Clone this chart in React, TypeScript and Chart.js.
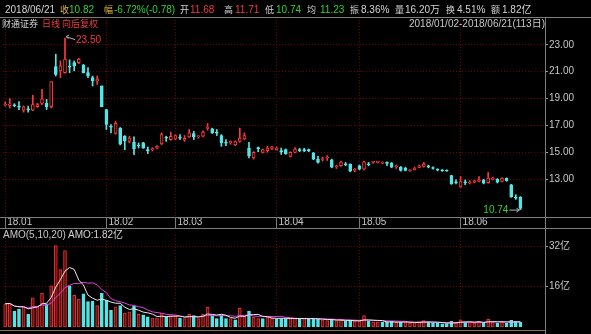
import React, { useEffect, useRef } from 'react';
import { Chart, registerables } from 'chart.js';

Chart.register(...registerables);

// ---------- data ----------
const monthLabels = ['18.01', '18.02', '18.03', '18.04', '18.05', '18.06'];
const monthStarts = [0, 22, 37, 59, 77, 99];
const priceTicks = [13, 15, 17, 19, 21, 23];
const amoTicks = [16, 32];

const opens = [
  18.52, 18.5, 18.52, 18.42, 18.14, 18.22, 18.14, 18.39, 18.64, 18.64,
  18.39, 21.38, 21.06, 20.93, 21.4, 21.68, 21.68, 21.48, 20.93, 20.56,
  20.31, 19.94, 18.19, 16.92, 16.4, 16.78, 16.2, 15.82, 15.77, 15.52,
  15.7, 15.18, 15.2, 15.32, 15.62, 16.1, 15.95, 16.0, 16.1, 15.9,
  16.15, 16.4, 16.15, 16.2, 16.78, 16.75, 16.48, 16.25, 15.72, 15.7,
  15.55, 15.82, 16.0, 15.32, 14.58, 15.32, 15.0, 15.12, 15.3, 15.2,
  15.1, 15.2, 14.7, 15.0, 15.18, 15.18, 15.2, 14.95, 14.5, 14.47,
  14.58, 14.45, 13.93, 14.0, 14.13, 14.1, 13.65, 14.0, 13.75, 14.13,
  14.25, 14.25, 14.2, 14.22, 14.2, 13.93, 13.9, 13.82, 13.63, 13.72,
  13.88, 13.95, 14.0, 13.85, 13.72, 13.67, 13.65, 13.28, 12.78, 12.42,
  12.78, 12.72, 12.78, 12.83, 12.96, 12.75, 12.98, 13.0, 12.83, 13.08,
  12.58, 11.65, 11.68,
];
const highs = [
  18.75, 19.0, 18.62, 18.78, 18.45, 18.44, 19.24, 18.65, 19.69, 18.94,
  20.26, 22.3, 21.8, 23.5, 21.88, 21.8, 22.0, 21.55, 21.3, 20.68,
  20.68, 19.94, 18.2, 17.07, 17.3, 16.85, 16.25, 16.2, 16.15, 15.7,
  15.75, 15.4, 15.35, 15.5, 16.45, 16.2, 16.5, 16.3, 16.32, 16.25,
  16.7, 16.57, 16.25, 16.6, 17.15, 16.8, 16.7, 16.32, 15.95, 15.85,
  15.85, 16.8, 16.45, 15.75, 15.05, 15.4, 15.25, 15.45, 15.45, 15.4,
  15.32, 15.25, 15.05, 15.35, 15.3, 15.3, 15.25, 15.0, 14.7, 14.65,
  14.75, 14.5, 14.05, 14.35, 14.25, 14.15, 13.8, 14.05, 14.35, 14.25,
  14.32, 14.32, 14.3, 14.3, 14.25, 14.07, 13.95, 13.9, 13.72, 13.9,
  14.05, 14.25, 14.05, 13.92, 13.78, 13.72, 13.7, 13.3, 12.95, 13.2,
  12.95, 12.9, 12.92, 13.2, 13.0, 13.5, 13.15, 13.05, 13.12, 13.1,
  12.62, 11.85, 11.71,
];
const lows = [
  18.45, 18.3, 18.4, 18.18, 17.99, 17.99, 18.1, 18.35, 18.55, 18.19,
  18.3, 20.68, 20.56, 20.9, 20.93, 21.06, 21.6, 20.9, 20.56, 19.94,
  20.06, 18.39, 16.7, 16.45, 16.35, 15.55, 15.2, 15.7, 14.82, 15.32,
  15.3, 14.9, 15.1, 15.25, 15.57, 15.82, 15.9, 15.95, 15.95, 15.82,
  16.1, 15.95, 16.05, 16.15, 16.65, 16.4, 16.25, 15.45, 15.5, 15.6,
  15.5, 15.75, 15.95, 14.58, 14.5, 15.05, 14.95, 15.0, 15.2, 15.15,
  14.85, 14.85, 14.65, 14.95, 15.05, 15.05, 15.05, 14.45, 14.2, 14.35,
  14.4, 13.85, 13.8, 13.95, 14.0, 13.55, 13.55, 13.7, 13.7, 14.0,
  14.18, 14.2, 14.15, 14.0, 13.85, 13.8, 13.6, 13.62, 13.58, 13.68,
  13.85, 13.9, 13.85, 13.75, 13.62, 13.58, 13.58, 12.62, 12.65, 12.4,
  12.6, 12.65, 12.72, 12.8, 12.65, 12.7, 12.95, 12.72, 12.8, 12.85,
  11.65, 11.5, 10.74,
];
const closes = [
  18.58, 18.6, 18.47, 18.36, 18.39, 18.17, 18.56, 18.56, 18.99, 18.39,
  20.26, 20.8, 21.43, 21.93, 21.34, 21.43, 21.93, 20.93, 20.7, 20.31,
  20.43, 18.39, 17.07, 16.87, 17.15, 15.6, 15.87, 16.07, 15.25, 15.47,
  15.32, 15.13, 15.27, 15.45, 16.32, 16.05, 16.2, 16.25, 16.05, 16.05,
  16.45, 16.15, 16.22, 16.5, 16.85, 16.45, 16.43, 15.7, 15.68, 15.82,
  15.8, 16.07, 16.25, 14.75, 15.0, 15.28, 15.2, 15.32, 15.35, 15.32,
  15.05, 14.9, 15.0, 15.25, 15.13, 15.13, 15.1, 14.5, 14.25, 14.52,
  14.63, 13.9, 13.97, 14.28, 14.08, 13.6, 13.75, 13.75, 14.3, 14.08,
  14.28, 14.28, 14.25, 14.18, 13.9, 13.97, 13.65, 13.65, 13.68, 13.82,
  14.0, 14.13, 13.9, 13.8, 13.68, 13.63, 13.61, 12.66, 12.74, 12.83,
  12.74, 12.78, 12.88, 12.95, 12.71, 13.08, 13.1, 12.78, 13.08, 12.9,
  11.7, 11.6, 10.82,
];
// turnover amount, 亿
const amounts = [
  9.2, 9.4, 6.3, 7.1, 8.0, 5.1, 11.5, 8.0, 13.3, 9.2,
  16.3, 32.2, 22.7, 30.2, 16.3, 12.5, 11.0, 13.1, 10.1, 10.3,
  8.5, 13.3, 10.6, 6.6, 8.0, 8.5, 5.5, 6.0, 8.2, 5.0,
  4.8, 4.0, 3.5, 3.5, 5.5, 4.0, 4.5, 4.2, 3.5, 3.3,
  5.0, 4.5, 3.3, 5.1, 7.8, 4.2, 3.3, 4.7, 3.3, 3.3,
  2.8, 7.4, 4.2, 6.3, 3.8, 3.3, 3.3, 3.8, 3.5, 3.3,
  3.3, 3.3, 3.3, 3.5, 3.3, 3.3, 3.0, 3.5, 3.0, 2.8,
  2.5, 3.0, 2.5, 2.8, 2.2, 2.6, 2.3, 2.3, 4.5, 2.3,
  2.0, 2.0, 1.8, 2.0, 2.2, 1.8, 1.9, 2.0, 1.6, 1.7,
  2.0, 2.5, 2.0, 1.5, 1.5, 1.3, 1.4, 2.2, 1.7, 2.8,
  1.9, 1.8, 1.6, 2.2, 1.6, 3.0, 2.0, 1.6, 2.0, 1.6,
  2.6, 2.2, 1.82,
];
// moving-average lines drawn on the AMO pane (white, magenta)
const amoLinePeriods = [5, 10];

// ---------- style ----------
const RED = '#ff3838';
const CYAN = '#54e6e6';
const GREEN = '#2ed42e';
const GRID = '#7a0000';
const FRAME = '#7c7c7c';
const AXIS_TEXT = '#c8c8c8';
const FONT_FAMILY = '"Liberation Sans", "Noto Sans CJK SC", sans-serif';
const X_MIN = -0.478;
const X_MAX = 117.35;

const candleUp = (i: number) => closes[i] >= opens[i];
const amountUp = (i: number) => (i === 0 ? candleUp(0) : closes[i] >= closes[i - 1]);

function movingAverage(values: number[], n: number) {
  return values.map((_, i) => {
    const w = values.slice(Math.max(0, i - n + 1), i + 1);
    return w.reduce((a, b) => a + b, 0) / w.length;
  });
}

const extremaPlugin = {
  id: 'extrema',
  afterDatasetsDraw(chart: any) {
    const { ctx, scales } = chart;
    const x = scales.x;
    const y = scales.y;
    let hi = 0;
    let lo = 0;
    highs.forEach((h, i) => { if (h > highs[hi]) hi = i; });
    lows.forEach((l, i) => { if (l < lows[lo]) lo = i; });
    ctx.save();
    ctx.font = `10px ${FONT_FAMILY}`;
    ctx.textBaseline = 'middle';
    ctx.strokeStyle = '#b4b4b4';
    ctx.lineWidth = 1;
    // highest
    const hx = x.getPixelForValue(hi);
    const hy = y.getPixelForValue(highs[hi]);
    ctx.beginPath();
    ctx.moveTo(hx + 1, hy - 1.5);
    ctx.lineTo(hx + 10, hy + 1.5);
    ctx.moveTo(hx + 1, hy - 1.5);
    ctx.lineTo(hx + 4, hy - 3);
    ctx.moveTo(hx + 1, hy - 1.5);
    ctx.lineTo(hx + 3.5, hy + 0.5);
    ctx.stroke();
    ctx.fillStyle = RED;
    ctx.textAlign = 'left';
    ctx.fillText(highs[hi].toFixed(2), hx + 11, hy + 2.5);
    // lowest
    const lx = x.getPixelForValue(lo);
    const ly = y.getPixelForValue(lows[lo]);
    ctx.beginPath();
    ctx.moveTo(lx - 1, ly + 0.5);
    ctx.lineTo(lx - 11, ly + 0.5);
    ctx.moveTo(lx - 1, ly + 0.5);
    ctx.lineTo(lx - 4, ly - 1.5);
    ctx.moveTo(lx - 1, ly + 0.5);
    ctx.lineTo(lx - 4, ly + 2.5);
    ctx.stroke();
    ctx.fillStyle = GREEN;
    ctx.textAlign = 'right';
    ctx.fillText(lows[lo].toFixed(2), lx - 12, ly + 0.5);
    ctx.restore();
  },
};

const axisFont = { size: 10, family: FONT_FAMILY };

export default function App() {
  const priceRef = useRef<HTMLCanvasElement>(null);
  const amoRef = useRef<HTMLCanvasElement>(null);

  useEffect(() => {
    document.body.style.margin = '0';
    document.body.style.background = '#000';
    const idx = opens.map((_, i) => i);

    const xScale = (showLabels: boolean) => ({
      type: 'linear',
      position: 'bottom',
      min: X_MIN,
      max: X_MAX,
      bounds: 'data',
      offset: false,
      afterBuildTicks: (s: any) => { s.ticks = monthStarts.map((v) => ({ value: v })); },
      afterFit: (s: any) => { s.height = showLabels ? 11 : 0; },
      grid: {
        offset: false,
        color: GRID,
        lineWidth: 1,
        drawTicks: showLabels,
        tickLength: 11,
        tickColor: FRAME,
        tickWidth: 1,
      },
      border: { display: false, dash: [1, 2] },
      ticks: showLabels
        ? {
            color: AXIS_TEXT,
            font: axisFont,
            align: 'start',
            padding: -12,
            labelOffset: 2,
            maxRotation: 0,
            autoSkip: false,
            callback: (v: any) => monthLabels[monthStarts.indexOf(Number(v))] ?? '',
          }
        : { display: false },
    });

    const price = new Chart(priceRef.current as HTMLCanvasElement, {
      type: 'bar',
      data: {
        datasets: [
          {
            label: 'body',
            data: idx.map((i) => ({ x: i, y: [opens[i], closes[i]] })) as any,
            backgroundColor: (c: any) => (candleUp(c.dataIndex) ? '#000000' : CYAN),
            borderColor: (c: any) => (candleUp(c.dataIndex) ? RED : CYAN),
            borderWidth: 1,
            borderSkipped: false,
            barThickness: 3,
            minBarLength: 1,
            grouped: false,
            order: 0,
          } as any,
          {
            label: 'wick',
            data: idx.map((i) => ({ x: i, y: [lows[i], highs[i]] })) as any,
            backgroundColor: (c: any) => (candleUp(c.dataIndex) ? RED : CYAN),
            borderWidth: 0,
            barThickness: 1,
            grouped: false,
            order: 1,
          } as any,
        ],
      },
      options: {
        animation: false,
        responsive: true,
        maintainAspectRatio: false,
        events: [],
        layout: { padding: { top: 17, left: 3, right: 0, bottom: 0 } },
        plugins: { legend: { display: false }, tooltip: { enabled: false } },
        scales: {
          x: xScale(true) as any,
          y: {
            type: 'linear',
            position: 'right',
            min: 10.19,
            max: 25.07,
            bounds: 'data',
            afterBuildTicks: (s: any) => { s.ticks = priceTicks.map((v) => ({ value: v })); },
            afterFit: (s: any) => { s.width = 46; },
            grid: { color: GRID, lineWidth: 1, drawTicks: true, tickLength: 3, tickColor: '#a0a0a0' },
            border: { display: false, dash: [1, 2] },
            ticks: { color: AXIS_TEXT, font: axisFont, padding: 1, callback: (v: any) => Number(v).toFixed(2) },
          } as any,
        },
      },
      plugins: [extremaPlugin],
    });

    const maColors = ['#e8e8e8', '#e040e0'];
    const amo = new Chart(amoRef.current as HTMLCanvasElement, {
      type: 'bar',
      data: {
        datasets: [
          ...amoLinePeriods.map((p, k) => ({
            type: 'line',
            label: `MA${p}`,
            data: movingAverage(amounts, p).map((v, i) => ({ x: i, y: v })),
            borderColor: maColors[k],
            borderWidth: 1,
            pointRadius: 0,
            tension: 0,
            order: 0,
          })),
          {
            type: 'bar',
            label: 'AMO',
            data: idx.map((i) => ({ x: i, y: amounts[i] })),
            backgroundColor: (c: any) => (amountUp(c.dataIndex) ? '#6a0c0c' : CYAN),
            borderColor: (c: any) => (amountUp(c.dataIndex) ? '#e03030' : CYAN),
            borderWidth: 1,
            borderSkipped: false,
            barThickness: 3,
            grouped: false,
            order: 1,
          },
        ] as any,
      },
      options: {
        animation: false,
        responsive: true,
        maintainAspectRatio: false,
        events: [],
        layout: { padding: { top: 0, left: 3, right: 0, bottom: 3 } },
        plugins: { legend: { display: false }, tooltip: { enabled: false } },
        scales: {
          x: xScale(false) as any,
          y: {
            type: 'linear',
            position: 'right',
            min: 0,
            max: 36.4,
            bounds: 'data',
            afterBuildTicks: (s: any) => { s.ticks = amoTicks.map((v) => ({ value: v })); },
            afterFit: (s: any) => { s.width = 46; },
            grid: { color: GRID, lineWidth: 1, drawTicks: true, tickLength: 3, tickColor: '#a0a0a0' },
            border: { display: false, dash: [1, 2] },
            ticks: { color: AXIS_TEXT, font: axisFont, padding: 1, callback: (v: any) => `${v}亿` },
          } as any,
        },
      },
    });

    return () => {
      price.destroy();
      amo.destroy();
    };
  }, []);

  const T = (text: string, left: number, cy: number, color: string, size = 10) => (
    <span
      key={`${text}-${left}-${cy}`}
      style={{ position: 'absolute', left, top: cy - 6, lineHeight: '12px', fontSize: size, color, whiteSpace: 'nowrap' }}
    >
      {text}
    </span>
  );
  const line = (left: number, top: number, width: number, height: number, color: string, key: string) => (
    <div key={key} style={{ position: 'absolute', left, top, width, height, background: color }} />
  );

  const W = '#d4d4d4';
  const Y = '#e0b830';
  const R = '#f03c3c';
  const C = 9; // CJK glyph size

  return (
    <div
      style={{
        position: 'relative',
        width: 591,
        height: 334,
        background: '#000',
        overflow: 'hidden',
        fontFamily: FONT_FAMILY,
        fontSize: 10,
      }}
    >
      <div style={{ position: 'absolute', left: 0, top: 0, width: 591, height: 228 }}>
        <canvas ref={priceRef} />
      </div>
      <div style={{ position: 'absolute', left: 0, top: 228, width: 591, height: 106 }}>
        <canvas ref={amoRef} />
      </div>

      {line(0, 17, 591, 1, FRAME, 'l1')}
      {line(0, 217, 591, 1, FRAME, 'l2')}
      {line(0, 228, 591, 1, FRAME, 'l3')}
      {line(545, 17, 1, 317, FRAME, 'l4')}
      {line(0, 330, 545, 1, '#8c7444', 'l5')}

      {T('2018/06/21', 5, 10, W)}
      {T('收', 60, 10, Y, C)}
      {T('10.82', 69, 10, GREEN)}
      {T('幅', 104, 10, Y, C)}
      {T('-6.72%(-0.78)', 114, 10, GREEN)}
      {T('开', 180, 10, W, C)}
      {T('11.68', 190, 10, R)}
      {T('高', 224, 10, W, C)}
      {T('11.71', 235, 10, R)}
      {T('低', 265, 10, W, C)}
      {T('10.74', 276, 10, GREEN)}
      {T('均', 307, 10, W, C)}
      {T('11.23', 320, 10, GREEN)}
      {T('振', 350, 10, W, C)}
      {T('8.36%', 361, 10, W)}
      {T('量', 395, 10, W, C)}
      {T('16.20万', 405, 10, W)}
      {T('换', 446, 10, W, C)}
      {T('4.51%', 457, 10, W)}
      {T('额', 491, 10, W, C)}
      {T('1.82亿', 502, 10, W)}

      {T('财通证券', 2, 24, W, C)}
      {T('日线', 42, 24, R, C)}
      {T('向后复权', 62, 24, R, C)}
      <span
        style={{ position: 'absolute', right: 46, top: 18, lineHeight: '12px', color: AXIS_TEXT, whiteSpace: 'nowrap' }}
      >
        2018/01/02-2018/06/21(113日)
      </span>

      {T('AMO(5,10,20)', 3, 235, AXIS_TEXT)}
      {T('AMO:1.82亿', 68, 235, W)}
    </div>
  );
}
